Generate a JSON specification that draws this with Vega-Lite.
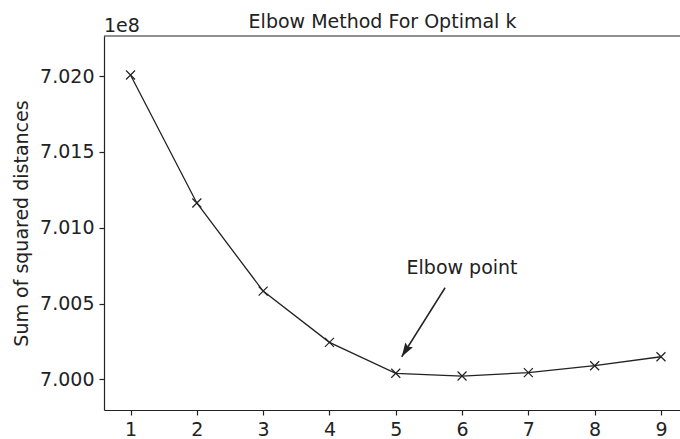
{
  "$schema": "https://vega.github.io/schema/vega-lite/v6.json",
  "width": 576,
  "height": 374,
  "autosize": "none",
  "padding": {"left": 104, "top": 36, "right": 0, "bottom": 29},
  "background": "white",
  "config": {
    "view": {"stroke": null},
    "font": "DejaVu Sans",
    "axis": {
      "grid": false,
      "domainColor": "#222",
      "tickColor": "#222",
      "labelColor": "#222",
      "titleColor": "#222",
      "labelFont": "DejaVu Sans",
      "titleFont": "DejaVu Sans",
      "labelFontSize": 19,
      "titleFontSize": 19,
      "titleFontWeight": "normal",
      "tickSize": 5,
      "domainWidth": 1.2,
      "tickWidth": 1.2
    }
  },
  "datasets": {
    "elbow": [
      {"k": 1, "sse": 702007000},
      {"k": 2, "sse": 701163000},
      {"k": 3, "sse": 700582000},
      {"k": 4, "sse": 700244000},
      {"k": 5, "sse": 700040000},
      {"k": 6, "sse": 700022000},
      {"k": 7, "sse": 700044000},
      {"k": 8, "sse": 700090000},
      {"k": 9, "sse": 700149000}
    ],
    "arrow": [
      {"x1": 5.744, "y1": 700604000, "x2": 5.09, "y2": 700149000, "label": "Elbow point", "tx": 6.0, "ty": 700732000}
    ],
    "offset": [
      {"x": 0.6, "y": 702264000, "label": "1e8"}
    ],
    "heading": [
      {"x": 4.80, "y": 702264000, "label": "Elbow Method For Optimal k"}
    ]
  },
  "layer": [
    {
      "data": {"name": "elbow"},
      "mark": {"type": "line", "color": "#222", "strokeWidth": 1.3},
      "encoding": {
        "x": {
          "field": "k",
          "type": "quantitative",
          "scale": {"domain": [0.6, 9.287], "nice": false, "zero": false},
          "axis": {"values": [1, 2, 3, 4, 5, 6, 7, 8, 9], "title": null, "labelPadding": 5, "format": "d"}
        },
        "y": {
          "field": "sse",
          "type": "quantitative",
          "scale": {"domain": [699798000, 702264000], "nice": false, "zero": false},
          "axis": {
            "values": [700000000, 700500000, 701000000, 701500000, 702000000],
            "labelExpr": "format(datum.value / 1e8, '.3f')",
            "title": "Sum of squared distances",
            "titlePadding": 8,
            "labelPadding": 5
          }
        }
      }
    },
    {
      "data": {"name": "elbow"},
      "mark": {
        "type": "point",
        "shape": "M-1,-1L1,1M-1,1L1,-1",
        "filled": false,
        "stroke": "#222",
        "strokeWidth": 1.2,
        "size": 81,
        "opacity": 1
      },
      "encoding": {
        "x": {"field": "k", "type": "quantitative"},
        "y": {"field": "sse", "type": "quantitative"}
      }
    },
    {
      "data": {"name": "arrow"},
      "mark": {"type": "rule", "color": "#222", "strokeWidth": 1.5},
      "encoding": {
        "x": {"field": "x1", "type": "quantitative"},
        "y": {"field": "y1", "type": "quantitative"},
        "x2": {"field": "x2"},
        "y2": {"field": "y2"}
      }
    },
    {
      "data": {"name": "arrow"},
      "mark": {
        "type": "point",
        "shape": "M0,0L-0.32,1L0,0.85L0.32,1Z",
        "filled": true,
        "color": "#222",
        "size": 784,
        "angle": 212,
        "opacity": 1
      },
      "encoding": {
        "x": {"field": "x2", "type": "quantitative"},
        "y": {"field": "y2", "type": "quantitative"}
      }
    },
    {
      "data": {"name": "arrow"},
      "mark": {"type": "text", "fontSize": 19, "color": "#222", "align": "center", "baseline": "middle"},
      "encoding": {
        "x": {"field": "tx", "type": "quantitative"},
        "y": {"field": "ty", "type": "quantitative"},
        "text": {"field": "label"}
      }
    },
    {
      "data": {"name": "offset"},
      "mark": {"type": "rule", "color": "#222", "strokeWidth": 1.2},
      "encoding": {
        "y": {"field": "y", "type": "quantitative"}
      }
    },
    {
      "data": {"name": "offset"},
      "mark": {"type": "text", "fontSize": 19, "color": "#222", "align": "left", "baseline": "alphabetic", "dy": -4},
      "encoding": {
        "x": {"field": "x", "type": "quantitative"},
        "y": {"field": "y", "type": "quantitative"},
        "text": {"field": "label"}
      }
    },
    {
      "data": {"name": "heading"},
      "mark": {"type": "text", "fontSize": 19, "color": "#222", "align": "center", "baseline": "alphabetic", "dy": -8},
      "encoding": {
        "x": {"field": "x", "type": "quantitative"},
        "y": {"field": "y", "type": "quantitative"},
        "text": {"field": "label"}
      }
    }
  ]
}
